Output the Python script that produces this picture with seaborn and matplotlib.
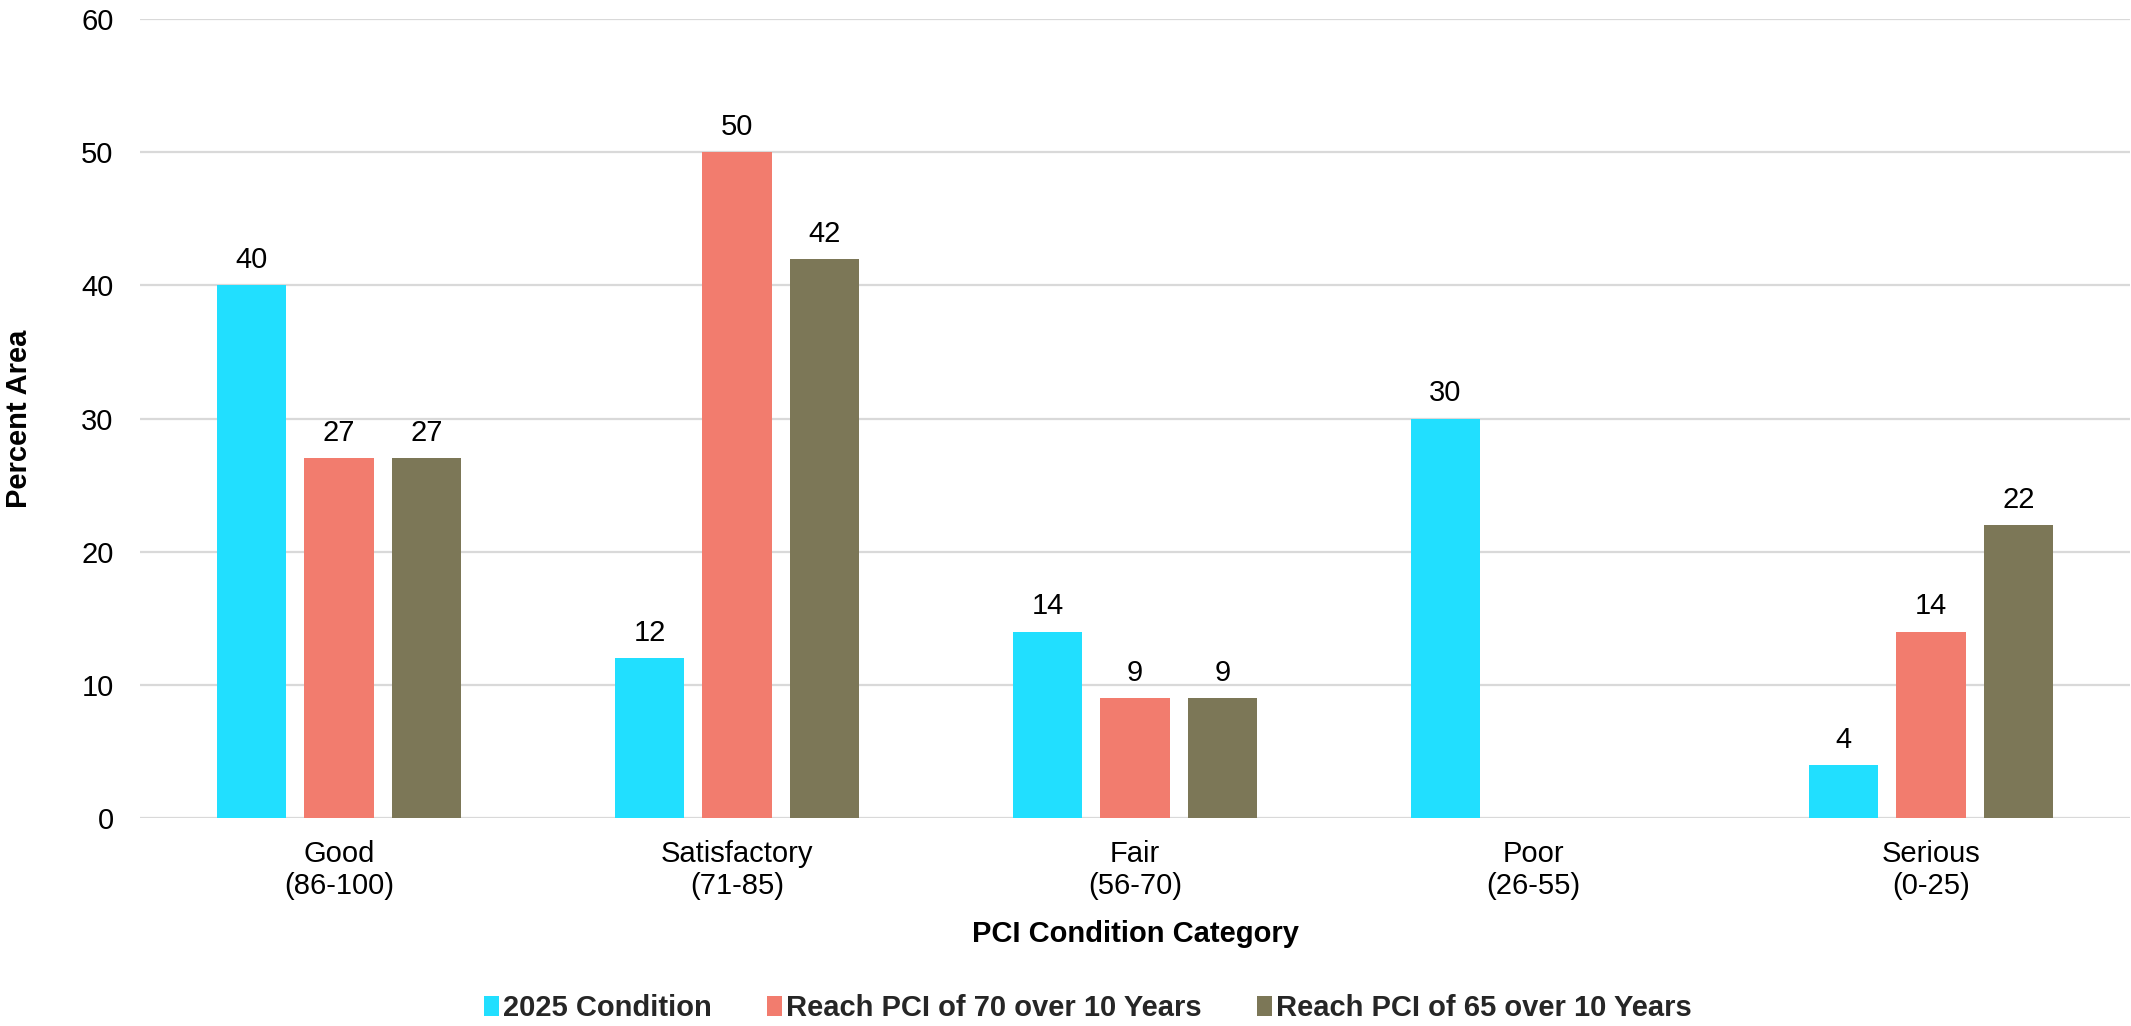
import pandas as pd
import matplotlib
matplotlib.use("Agg")
import matplotlib.pyplot as plt
from matplotlib.patches import Patch
import seaborn as sns

# PCI condition categories and percent of pavement area in each
categories = ["Good\n(86-100)", "Satisfactory\n(71-85)", "Fair\n(56-70)",
              "Poor\n(26-55)", "Serious\n(0-25)"]
series_names = ["2025 Condition", "Reach PCI of 70 over 10 Years",
                "Reach PCI of 65 over 10 Years"]
condition_2025 = [40, 12, 14, 30, 4]
reach_pci_70 = [27, 50, 9, None, 14]
reach_pci_65 = [27, 42, 9, None, 22]
y_ticks = [0, 10, 20, 30, 40, 50, 60]
colors = ["#21DFFF", "#F27C6E", "#7C7757"]

rows = []
for name, values in zip(series_names, [condition_2025, reach_pci_70, reach_pci_65]):
    for cat, v in zip(categories, values):
        if v is not None:
            rows.append({"Category": cat, "Scenario": name, "Percent": v})
df = pd.DataFrame(rows)

sns.set_theme(style="white")
plt.rcParams["font.family"] = ["Liberation Sans", "DejaVu Sans"]
FS = 21

W, H = 2131, 1026
fig = plt.figure(figsize=(W / 100, H / 100), dpi=100)
ax = fig.add_axes([140 / W, 1 - 818 / H, (W - 141) / W, (818 - 19) / H])

sns.barplot(data=df, x="Category", y="Percent", hue="Scenario",
            order=categories, hue_order=series_names, palette=colors,
            saturation=1, width=0.66, gap=0.21, linewidth=0,
            errorbar=None, legend=False, ax=ax)

for container in ax.containers:
    ax.bar_label(container, fmt="%g", padding=8, fontsize=FS, color="black")

ax.set_ylim(0, 60)
ax.set_xlim(-0.5, 4.5)
ax.set_yticks(y_ticks)
ax.yaxis.grid(True, color="#D9D9D9", linewidth=1.6)
ax.set_axisbelow(True)
for s in ax.spines.values():
    s.set_visible(False)
ax.tick_params(axis="y", length=0, pad=19, labelsize=FS, labelcolor="black")
ax.tick_params(axis="x", length=0, pad=16, labelsize=FS, labelcolor="black")
for lbl in ax.get_xticklabels():
    lbl.set_linespacing(1.15)

ax.set_xlabel("PCI Condition Category", fontsize=FS, fontweight="bold", color="black")
ax.set_ylabel("Percent Area", fontsize=FS, fontweight="bold", color="black")
ax.xaxis.set_label_coords(0.5, (818 - 920) / (818 - 19))
ax.yaxis.set_label_coords((33 - 140) / (W - 141), 0.5)

handles = [Patch(facecolor=c, edgecolor="none") for c in colors]
fig.legend(handles, series_names, loc="center",
           bbox_to_anchor=(1088 / W, 1 - 1008 / H), ncol=3, frameon=False,
           prop={"size": FS, "weight": "bold"}, handlelength=0.5,
           handleheight=0.7, handletextpad=0.15, columnspacing=1.9,
           borderaxespad=0)

fig.savefig("out.png", dpi=100, facecolor="white")
